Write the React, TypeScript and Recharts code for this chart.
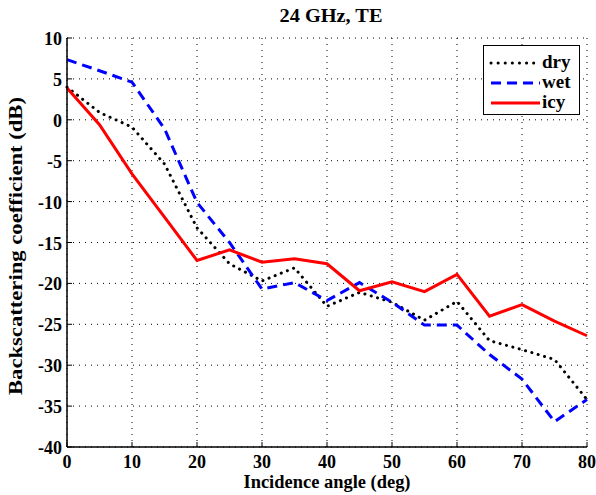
import React from 'react';
import { LineChart, Line, XAxis, YAxis, CartesianGrid } from 'recharts';

const angles = [0, 5, 10, 15, 20, 25, 30, 35, 40, 45, 50, 55, 60, 65, 70, 75, 80];
const dry = [4.0, 0.9, -0.9, -5.4, -13.2, -17.6, -19.7, -18.1, -22.8, -21.1, -22.3, -24.5, -22.2, -27.0, -28.1, -29.3, -34.2];
const wet = [7.35, 6.0, 4.6, -1.1, -10.1, -15.0, -20.7, -19.9, -22.1, -19.9, -22.3, -25.1, -25.1, -28.7, -31.7, -36.9, -34.2];
const icy = [3.9, -0.6, -6.6, -11.9, -17.2, -15.9, -17.4, -17.0, -17.6, -20.9, -19.8, -21.0, -18.9, -24.0, -22.6, -24.6, -26.4];
const xTicks = [0, 10, 20, 30, 40, 50, 60, 70, 80];
const yTicks = [-40, -35, -30, -25, -20, -15, -10, -5, 0, 5, 10];
const seriesNames = ['dry', 'wet', 'icy'];

const data = angles.map((a, i) => ({ angle: a, dry: dry[i], wet: wet[i], icy: icy[i] }));

const FONT = '"Liberation Serif", "Times New Roman", serif';

const legendStyles: Record<string, { stroke: string; dash?: string; cap?: 'round' }> = {
  dry: { stroke: '#000', dash: '0.1 7', cap: 'round' },
  wet: { stroke: '#0000ff', dash: '10 6' },
  icy: { stroke: '#ff0000' },
};

const XTick = (props: any) => {
  const { x, y, payload } = props;
  return (
    <text x={x} y={y + 21} textAnchor="middle" style={{ fontFamily: FONT, fontSize: 18, fontWeight: 700 }} fill="#000">
      {payload.value}
    </text>
  );
};

const YTick = (props: any) => {
  const { x, y, payload } = props;
  return (
    <text x={x - 5} y={y + 7} textAnchor="end" style={{ fontFamily: FONT, fontSize: 18, fontWeight: 700 }} fill="#000">
      {payload.value}
    </text>
  );
};

const LegendBox = () => (
  <g transform="translate(483,45)">
    <rect x={0.5} y={0.5} width={96} height={69} fill="#fff" stroke="#000" strokeWidth={1} />
    {seriesNames.map((n, i) => (
      <g key={n}>
        <line x1={8} y1={18 + i * 20} x2={57} y2={18 + i * 20} stroke={legendStyles[n].stroke} strokeWidth={3}
          strokeDasharray={legendStyles[n].dash} strokeLinecap={legendStyles[n].cap || 'butt'} />
        <text x={59} y={23 + i * 20} style={{ fontFamily: FONT, fontSize: 19, fontWeight: 700 }}>{n}</text>
      </g>
    ))}
  </g>
);

export default function App() {
  return (
    <div style={{ position: 'absolute', left: 0, top: 0, width: 596, height: 495, background: '#fff' }}>
      <LineChart width={596} height={495} data={data} margin={{ top: 38, right: 9, left: 0, bottom: 0 }}>
        <CartesianGrid stroke="#000" strokeDasharray="1 5" strokeWidth={1} />
        <XAxis
          dataKey="angle"
          type="number"
          domain={[0, 80]}
          ticks={xTicks}
          height={48}
          tickSize={-5}
          tickMargin={5}
          tick={XTick}
          axisLine={{ stroke: '#000', strokeWidth: 1.5 }}
          tickLine={{ stroke: '#000' }}
          interval={0}
        />
        <XAxis
          xAxisId="top"
          orientation="top"
          dataKey="angle"
          type="number"
          domain={[0, 80]}
          ticks={xTicks}
          height={0}
          tickSize={-5}
          tick={() => <g />}
          axisLine={{ stroke: '#000', strokeWidth: 1.5 }}
          tickLine={{ stroke: '#000' }}
          interval={0}
        />
        <YAxis
          type="number"
          domain={[-40, 10]}
          ticks={yTicks}
          width={67}
          tickSize={-5}
          tickMargin={5}
          tick={YTick}
          axisLine={{ stroke: '#000', strokeWidth: 1.5 }}
          tickLine={{ stroke: '#000' }}
          interval={0}
        />
        <YAxis
          yAxisId="right"
          orientation="right"
          type="number"
          domain={[-40, 10]}
          ticks={yTicks}
          width={0}
          tickSize={-5}
          tick={() => <g />}
          axisLine={{ stroke: '#000', strokeWidth: 1.5 }}
          tickLine={{ stroke: '#000' }}
          interval={0}
        />
        <Line type="linear" dataKey="dry" stroke="#000" strokeWidth={3} strokeDasharray="0.1 6.5" strokeLinecap="round" dot={false} isAnimationActive={false} />
        <Line type="linear" dataKey="wet" stroke="#0000ff" strokeWidth={3} strokeDasharray="10 6" dot={false} isAnimationActive={false} />
        <Line type="linear" dataKey="icy" stroke="#ff0000" strokeWidth={3} dot={false} isAnimationActive={false} />
        <LegendBox />
        <text x={331} y={22} textAnchor="middle" textLength={103} lengthAdjust="spacingAndGlyphs" style={{ fontFamily: FONT, fontSize: 18, fontWeight: 700 }}>24 GHz, TE</text>
        <text x={327} y={488} textAnchor="middle" textLength={167} lengthAdjust="spacingAndGlyphs" style={{ fontFamily: FONT, fontSize: 18, fontWeight: 700 }}>Incidence angle (deg)</text>
        <text x={22} y={246} textAnchor="middle" textLength={298} lengthAdjust="spacingAndGlyphs" transform="rotate(-90 22 246)" style={{ fontFamily: FONT, fontSize: 18, fontWeight: 700 }}>Backscattering coefficient (dB)</text>
      </LineChart>
    </div>
  );
}
